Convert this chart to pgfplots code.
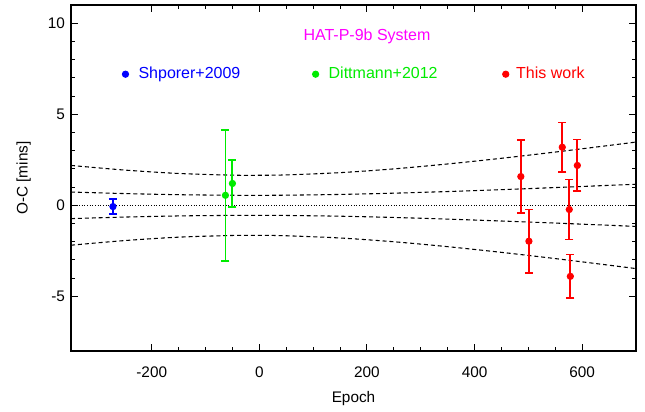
\documentclass[border=0pt]{standalone}
\usepackage{fontspec}
\setmainfont{Liberation Sans}
\usepackage{pgfplots}
\pgfplotsset{compat=1.18}
\definecolor{mag}{RGB}{255,0,255}
\definecolor{cblue}{RGB}{0,0,255}
\definecolor{cgreen}{RGB}{0,235,0}
\definecolor{cred}{RGB}{255,0,0}
\begin{document}
\begin{tikzpicture}
\path[use as bounding box] (-53.25pt,-45pt) rectangle (430.5pt,263.25pt);
\begin{axis}[
  at={(0pt,0pt)}, anchor=south west,
  scale only axis, width=423.75pt, height=259.5pt,
  xmin=-350, xmax=700, ymin=-8, ymax=11,
  xtick={-200,0,200,400,600}, ytick={-5,0,5,10},
  minor x tick num=3, minor y tick num=4,
  tick align=inside, major tick length=5.5pt, minor tick length=3pt,
  tick style={black, line width=0.8pt},
  axis line style={line width=1pt},
  font=\fontsize{11.5}{13}\selectfont,
  /pgf/number format/assume math mode=true,
  xticklabel style={yshift=-8.5pt},
  yticklabel style={xshift=-1pt},
  xlabel={Epoch}, ylabel={O-C [mins]},
  every axis x label/.style={at={(axis description cs:0.5,-0.136)}, anchor=center},
  every axis y label/.style={at={(axis description cs:-0.084,0.5)}, anchor=center, rotate=90},
  legend columns=3,
  legend image code/.code={\draw[#1] plot coordinates {(0pt,0pt)};},
  legend style={at={(axis cs:-249,7.2)}, anchor=west, xshift=-2.4pt, draw=none, fill=none,
    inner sep=0pt, nodes={inner sep=0pt}, /tikz/every even column/.append style={column sep=0pt},
    /tikz/every odd column/.append style={column sep=0pt},
    font=\fontsize{12}{14}\selectfont},
  clip=false,
]
% model bands
\addplot[black, line width=0.8pt, dash pattern=on 3pt off 2.2pt, smooth, forget plot] coordinates {
(-350,2.190) (-250,1.935) (-150,1.749) (-50,1.656) (0,1.650) (50,1.671) (150,1.794) (250,2.001) (350,2.271) (450,2.583) (550,2.925) (650,3.288) (700,3.474)};
\addplot[black, line width=0.8pt, dash pattern=on 3pt off 2.2pt, smooth, forget plot] coordinates {
(-350,0.730) (-250,0.645) (-150,0.583) (-50,0.552) (0,0.550) (50,0.557) (150,0.598) (250,0.667) (350,0.757) (450,0.861) (550,0.975) (650,1.096) (700,1.158)};
\addplot[black, line width=0.8pt, dash pattern=on 3pt off 2.2pt, smooth, forget plot] coordinates {
(-350,-0.730) (-250,-0.645) (-150,-0.583) (-50,-0.552) (0,-0.550) (50,-0.557) (150,-0.598) (250,-0.667) (350,-0.757) (450,-0.861) (550,-0.975) (650,-1.096) (700,-1.158)};
\addplot[black, line width=0.8pt, dash pattern=on 3pt off 2.2pt, smooth, forget plot] coordinates {
(-350,-2.190) (-250,-1.935) (-150,-1.749) (-50,-1.656) (0,-1.650) (50,-1.671) (150,-1.794) (250,-2.001) (350,-2.271) (450,-2.583) (550,-2.925) (650,-3.288) (700,-3.474)};
\addplot[black, line width=0.8pt, dash pattern=on 0.7pt off 1.3pt, forget plot] coordinates {(-350,0) (700,0)};
% data
\addplot[cblue, solid, only marks, mark=*, mark size=2.3pt, line width=0.8pt,
  error bars/.cd, y dir=both, y explicit, error bar style={solid, cblue, line width=1.4pt},
  error mark options={solid, cblue, rotate=90, mark size=3pt, line width=1.2pt}]
  coordinates {(-272,-0.07) +- (0,0.42)};
\addlegendentry{\makebox[138pt][l]{\hspace{7.5pt}\textcolor{cblue}{Shporer+2009}}}
\addplot[cgreen, solid, only marks, mark=*, mark size=2.3pt, line width=0.8pt,
  error bars/.cd, y dir=both, y explicit, error bar style={solid, cgreen, line width=1.4pt},
  error mark options={solid, cgreen, rotate=90, mark size=3pt, line width=1.2pt}]
  coordinates {(-63,0.55) +- (0,3.6) (-50,1.2) +- (0,1.3)};
\addlegendentry{\makebox[138pt][l]{\hspace{7.5pt}\textcolor{cgreen}{Dittmann+2012}}}
\addplot[cred, solid, only marks, mark=*, mark size=2.3pt, line width=0.8pt,
  error bars/.cd, y dir=both, y explicit, error bar style={solid, cred, line width=1.4pt},
  error mark options={solid, cred, rotate=90, mark size=3pt, line width=1.2pt}]
  coordinates {(486,1.58) +- (0,2.0) (501,-1.97) +- (0,1.75) (563,3.19) +- (0,1.35)
               (576,-0.23) +- (0,1.65) (578,-3.9) +- (0,1.2) (591,2.19) +- (0,1.42)};
\addlegendentry{\makebox[80pt][l]{\hspace{5.5pt}\textcolor{cred}{This work}}}
\node[mag, font=\fontsize{12}{14}\selectfont] at (axis cs:200,9.27) {HAT-P-9b System};
\end{axis}
\end{tikzpicture}
\end{document}
